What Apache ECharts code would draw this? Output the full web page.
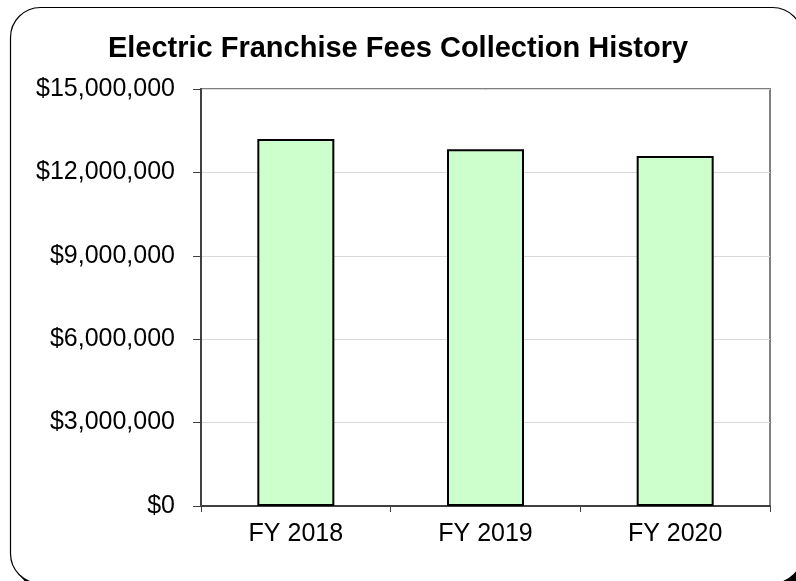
<!DOCTYPE html>
<html>
<head>
<meta charset="utf-8">
<script src="https://cdn.jsdelivr.net/npm/echarts@6/dist/echarts.min.js"></script>
<style>
  html, body { margin: 0; padding: 0; background: #fff; }
  #main { width: 796px; height: 581px; }
</style>
</head>
<body>
<div id="main"></div>
<script>
// chart data
var categories = ['FY 2018', 'FY 2019', 'FY 2020']
var collections = [13200000, 12830000, 12590000]
var yTicks = [0, 3000000, 6000000, 9000000, 12000000, 15000000]

var fmtMoney = function (v) {
  return '$' + String(v).replace(/\B(?=(\d{3})+(?!\d))/g, ',')
}

var myChart = echarts.init(document.getElementById('main'))

myChart.setOption({
  animation: false,
  backgroundColor: '#fff',
  textStyle: { fontFamily: 'Liberation Sans, Arial, sans-serif' },
  graphic: [{
    // drop shadow, only the lower right corner peeks out
    type: 'rect',
    z: -11,
    shape: { x: 16, y: 300, width: 792, height: 290, r: 30 },
    style: { fill: '#000' }
  }, {
    type: 'rect',
    z: -10,
    shape: { x: 10.5, y: 7.5, width: 792, height: 576, r: 30 },
    style: { fill: '#fff', stroke: '#000', lineWidth: 1.2 }
  }],
  title: {
    text: 'Electric Franchise Fees Collection History',
    left: 'center',
    top: 29,
    textStyle: { fontSize: 29, fontWeight: 'bold', color: '#000', fontFamily: 'Liberation Sans, Arial, sans-serif' }
  },
  grid: {
    left: 201,
    top: 89,
    right: 26,
    bottom: 75,
    show: true,
    borderColor: '#808080',
    borderWidth: 2
  },
  xAxis: {
    type: 'category',
    data: categories,
    axisLine: { lineStyle: { color: '#404040', width: 2 } },
    axisTick: { show: true, length: 6, lineStyle: { color: '#404040', width: 1 } },
    axisLabel: { fontSize: 25, color: '#000', margin: 16 }
  },
  yAxis: {
    type: 'value',
    min: yTicks[0],
    max: yTicks[yTicks.length - 1],
    interval: 3000000,
    axisLine: { show: true, lineStyle: { color: '#404040', width: 2 } },
    axisTick: { show: true, length: 8, lineStyle: { color: '#404040', width: 1 } },
    axisLabel: { fontSize: 25, color: '#000', margin: 26, formatter: fmtMoney },
    splitLine: { show: true, lineStyle: { color: '#d9d9d9', width: 1 } }
  },
  series: [{
    type: 'bar',
    data: collections,
    barWidth: '40.6%',
    itemStyle: { color: '#ccffcc', borderColor: '#000', borderWidth: 2 }
  }]
})
</script>
</body>
</html>
